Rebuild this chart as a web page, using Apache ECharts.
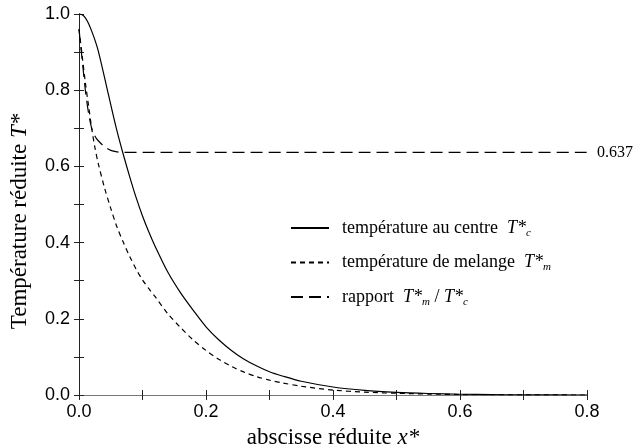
<!DOCTYPE html>
<html><head><meta charset="utf-8">
<script src="https://cdn.jsdelivr.net/npm/echarts@6/dist/echarts.min.js"></script>
<style>html,body{margin:0;padding:0;background:#fff}#c{width:639px;height:448px}</style>
</head><body><div id="c"></div>
<script>
const xValues = [0, 0.005, 0.01, 0.015, 0.02, 0.025, 0.03, 0.04, 0.05, 0.06, 0.07, 0.08, 0.09, 0.10, 0.11, 0.12, 0.14, 0.16, 0.18, 0.20, 0.22, 0.24, 0.26, 0.28, 0.30, 0.32, 0.35, 0.40, 0.45, 0.50, 0.55, 0.60, 0.65, 0.70, 0.80];
const tCentre = [1.0, 0.998, 0.99, 0.975, 0.955, 0.932, 0.905, 0.835, 0.762, 0.692, 0.63, 0.572, 0.518, 0.47, 0.428, 0.39, 0.322, 0.268, 0.222, 0.179, 0.145, 0.117, 0.094, 0.076, 0.061, 0.05, 0.036, 0.021, 0.012, 0.007, 0.004, 0.002, 0.001, 0.0005, 0.0];
const tMelange = [0.96, 0.89, 0.82, 0.76, 0.70, 0.65, 0.61, 0.545, 0.49, 0.44, 0.40, 0.363, 0.33, 0.302, 0.279, 0.258, 0.213, 0.177, 0.144, 0.117, 0.094, 0.075, 0.06, 0.048, 0.039, 0.032, 0.023, 0.013, 0.0075, 0.0045, 0.0025, 0.0013, 0.0007, 0.0003, 0.0];
const rapport = [0.96, 0.88, 0.80, 0.74, 0.70, 0.68, 0.668, 0.652, 0.642, 0.638, 0.637, 0.637, 0.637, 0.637, 0.637, 0.637, 0.637, 0.637, 0.637, 0.637, 0.637, 0.637, 0.637, 0.637, 0.637, 0.637, 0.637, 0.637, 0.637, 0.637, 0.637, 0.637, 0.637, 0.637, 0.637];
const rapportLabel = '0.637';
const xTicks = [0, 0.2, 0.4, 0.6, 0.8];
const yTicks = [0, 0.2, 0.4, 0.6, 0.8, 1.0];

const serif = '"Liberation Serif", "Times New Roman", serif';
const sans = '"Liberation Sans", Arial, sans-serif';
const pair = arr => xValues.map((x, i) => [x, arr[i]]);
const isTick = (list, v) => list.some(t => Math.abs(t - v) < 1e-9);

const axisLine = { show: true, lineStyle: { color: '#222', width: 1 } };
const tick = { show: true, inside: true, length: 5, lineStyle: { color: '#222', width: 1 } };

const richLegend = {
  n: { fontFamily: serif, fontSize: 18, color: '#000' },
  i: { fontFamily: serif, fontSize: 18, fontStyle: 'italic', color: '#000' },
  s: { fontFamily: serif, fontSize: 11, fontStyle: 'italic', color: '#000', padding: [10, 0, 0, 0] }
};
const legendNames = {
  centre: '{n|température au centre  }{i|T*}{s|c}',
  melange: '{n|température de melange  }{i|T*}{s|m}',
  rapport: '{n|rapport  }{i|T*}{s|m}{n| / }{i|T*}{s|c}'
};
const nameRich = {
  a: { fontFamily: serif, fontSize: 23, color: '#000' },
  b: { fontFamily: serif, fontSize: 23, fontStyle: 'italic', color: '#000' }
};

const chart = echarts.init(document.getElementById('c'), null, { renderer: 'canvas' });
chart.setOption({
  animation: false,
  backgroundColor: '#fff',
  grid: { left: 79, right: 52, top: 14, bottom: 53, containLabel: false, outerBoundsMode: 'none' },
  legend: {
    orient: 'vertical',
    left: 285, top: 214,
    itemWidth: 38, itemHeight: 14, itemGap: 15,
    data: ['centre', 'melange', 'rapport'],
    formatter: n => legendNames[n],
    itemStyle: { color: 'transparent', borderColor: 'transparent', borderWidth: 0, opacity: 0 },
    textStyle: { rich: richLegend, padding: [0, 0, 0, 8] }
  },
  xAxis: [{
    type: 'value', min: 0, max: 0.8, interval: 0.1, position: 'bottom',
    axisLine: axisLine, axisTick: tick, splitLine: { show: false },
    axisLabel: { fontFamily: sans, fontSize: 18, color: '#000', margin: 8, showMinLabel: true, showMaxLabel: true,
      formatter: v => isTick(xTicks, v) ? v.toFixed(1) : '' },
    name: '{a|abscisse réduite }{b|x*}', nameLocation: 'middle', nameGap: 31,
    nameTextStyle: { rich: nameRich, verticalAlign: 'top' }
  }, {
    type: 'value', min: 0, max: 0.8, interval: 0.1, position: 'top',
    axisLine: { show: true, lineStyle: { color: '#777', width: 1 } }, axisTick: tick, splitLine: { show: false },
    axisLabel: { show: false }
  }],
  yAxis: [{
    type: 'value', min: 0, max: 1.0, interval: 0.1, position: 'left',
    axisLine: axisLine, axisTick: tick, splitLine: { show: false },
    axisLabel: { fontFamily: sans, fontSize: 18, color: '#000', margin: 9, showMinLabel: true, showMaxLabel: true,
      formatter: v => isTick(yTicks, v) ? v.toFixed(1) : '' },
    name: '{a|Température réduite }{b|T*}', nameLocation: 'middle', nameGap: 48, nameRotate: 90,
    nameTextStyle: { rich: nameRich, padding: [0, 34, 0, 0] }
  }, {
    type: 'value', min: 0, max: 1.0, interval: 0.1, position: 'right',
    axisLine: axisLine, axisTick: tick, splitLine: { show: false },
    axisLabel: { show: false }
  }],
  series: [{
    name: 'centre', type: 'line', symbol: 'none', smooth: 0.3, data: pair(tCentre),
    lineStyle: { color: '#000', width: 1.2, type: 'solid' }, itemStyle: { color: '#000' }
  }, {
    name: 'melange', type: 'line', symbol: 'none', smooth: 0.3, data: pair(tMelange),
    lineStyle: { color: '#000', width: 1.2, type: [5, 4] }, itemStyle: { color: '#000' }
  }, {
    name: 'rapport', type: 'line', symbol: 'none', smooth: 0.3, data: pair(rapport),
    lineStyle: { color: '#000', width: 1.2, type: [12, 6] }, itemStyle: { color: '#000' },
    endLabel: { show: true, formatter: rapportLabel, distance: 10, fontFamily: serif, fontSize: 16, color: '#000' }
  }]
});
</script></body></html>
